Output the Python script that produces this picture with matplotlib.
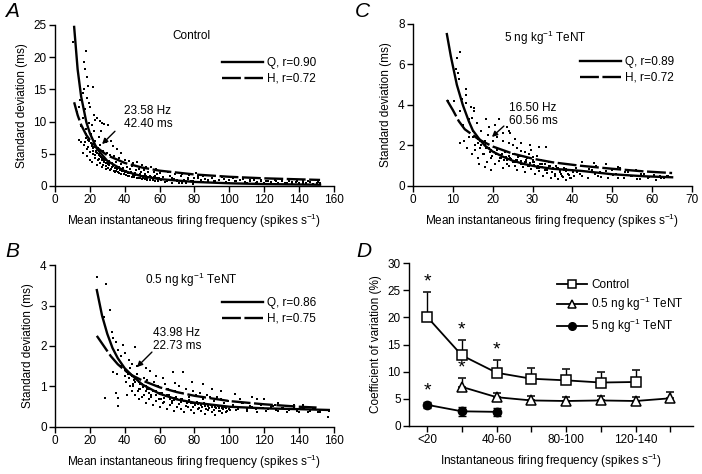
import numpy as np
import matplotlib
matplotlib.use("Agg")
import matplotlib.pyplot as plt
from matplotlib.lines import Line2D

plt.rcParams['font.family'] = ['Liberation Sans', 'DejaVu Sans']
plt.rcParams['mathtext.default'] = 'regular'
plt.rcParams['font.size'] = 8

# --- panel A: control scatter (freq Hz, SD ms) ---
a_x = [10.3, 17.6, 16.5, 17.3, 18.6, 19.2, 21.8, 16.8, 15.8, 18.2, 14.6, 19.5, 20.3, 17.0, 22.4, 24.1,
       23.0, 25.6, 27.2, 28.4, 30.6, 21.2, 26.3, 22.5, 19.8, 13.6, 12.4, 16.0, 14.8, 18.0, 20.5, 25.0,
       28.8, 32.0, 29.5, 35.8, 33.0, 13.8, 15.2, 16.5, 17.8, 19.0, 21.0, 22.8, 24.5, 26.0, 27.5, 30.0,
       31.5, 34.0, 36.5, 38.0, 40.0, 42.5, 45.0, 47.0, 50.0, 52.0, 55.0, 58.0,
       16.2, 18.5, 20.2, 21.5, 23.0, 24.2, 25.5, 26.8, 28.0, 29.2, 30.5, 31.8, 33.0, 34.5, 35.5, 37.0,
       38.5, 39.5, 41.0, 42.0, 43.5, 44.5, 46.0, 47.5, 48.5, 50.5, 51.5, 53.0, 54.5, 56.0, 57.5, 59.0,
       22.0, 24.0, 26.0, 27.0, 29.0, 31.0, 32.5, 34.0, 35.0, 36.5, 38.0, 39.0, 41.5, 43.0, 44.0, 46.5,
       48.0, 49.5, 51.0, 53.5, 56.5, 58.5, 60.0,
       18.0, 19.5, 21.0, 22.0, 23.5, 25.0, 26.5, 28.0, 29.5, 31.0, 33.5, 36.0, 38.5, 41.0, 43.5, 46.0,
       48.5, 51.0, 53.5, 56.0, 58.5,
       62, 64, 66, 68, 70, 72, 74, 76, 78, 80, 82, 84, 86, 88, 90, 92, 94, 96, 98, 100, 102, 104, 106,
       108, 110, 112, 114, 116, 118, 120, 122, 124, 126, 128, 130, 132, 134, 136, 138, 140, 142, 144,
       146, 148, 150, 152, 61, 65, 69, 73, 77, 81, 85, 63, 67, 71, 75, 79,
       17.0, 18.4, 20.1, 21.6, 22.9, 24.6, 26.0, 27.4, 29.1, 30.5, 32.0, 33.6, 35.0, 36.4, 38.1, 39.5,
       41.0, 42.6, 44.0, 45.4, 47.1, 48.5, 50.0, 51.6, 53.0, 54.4, 56.1, 57.5, 59.0,
       17.7, 19.1, 20.8, 22.3, 23.6, 25.3, 26.7, 28.1, 29.8, 31.2, 32.7, 34.3, 35.7, 37.1, 38.8, 40.2,
       41.7, 43.3, 44.7, 46.1, 47.8, 49.2, 50.7, 52.3, 53.7, 55.1, 56.8, 58.2, 59.7,
       61, 64, 67, 70, 73, 76, 79, 82, 85, 88, 91, 94, 97, 100, 103, 106, 109, 112, 115, 118, 121, 124,
       127, 130, 133, 136, 139, 142, 145, 148, 151]
a_y = [22.3, 21.0, 19.2, 18.1, 16.9, 15.6, 15.3, 15.1, 14.4, 13.7, 13.4, 12.9, 12.2, 11.9, 11.0, 10.5,
       10.2, 10.1, 9.8, 9.6, 9.5, 9.4, 8.6, 8.5, 9.8, 12.2, 11.5, 10.5, 9.3, 8.8, 8.0, 7.6,
       7.3, 7.0, 6.8, 5.8, 6.2, 7.1, 6.8, 6.3, 7.4, 6.0, 6.5, 7.0, 5.9, 6.3, 5.5, 5.2,
       4.8, 4.6, 4.4, 5.2, 4.1, 3.9, 3.6, 3.8, 3.2, 3.0, 2.9, 2.6,
       5.2, 4.6, 4.1, 3.7, 4.8, 3.3, 4.2, 3.0, 3.8, 2.7, 3.4, 2.5, 3.1, 2.2, 2.9, 2.0,
       2.6, 1.8, 2.4, 1.6, 2.2, 1.5, 2.0, 1.3, 1.9, 1.2, 1.8, 1.1, 1.6, 1.0, 1.5, 0.9,
       5.5, 5.1, 4.6, 4.0, 3.5, 3.9, 3.6, 3.3, 3.8, 3.0, 3.4, 2.8, 3.0, 2.6, 3.1, 2.5,
       2.7, 2.2, 2.5, 2.1, 2.2, 1.9, 2.0,
       7.5, 7.0, 6.2, 5.9, 5.4, 5.0, 4.5, 4.2, 4.0, 3.6, 3.2, 2.8, 2.4, 2.3, 2.0, 1.9,
       1.7, 1.6, 1.4, 1.3, 1.2,
       1.4, 0.9, 1.6, 1.1, 0.8, 1.5, 1.0, 1.3, 0.7, 1.2, 1.6, 0.9, 1.1, 0.6, 1.3, 0.8, 1.0, 1.4, 0.6, 0.9, 1.2, 0.7, 0.9,
       1.1, 0.5, 0.8, 1.0, 0.6, 0.9, 0.5, 0.8, 0.6, 0.9, 0.4, 0.7, 0.5, 0.8, 0.4, 0.6, 0.5, 0.7, 0.4,
       0.6, 0.3, 0.5, 0.4, 2.3, 2.1, 1.9, 1.8, 1.7, 2.0, 1.6, 0.6, 0.5, 0.4, 0.5, 0.3,
       6.9, 5.8, 5.3, 4.9, 4.4, 4.0, 3.6, 3.3, 3.1, 2.8, 2.6, 2.4, 2.3, 2.1, 1.9, 1.8,
       1.7, 1.5, 1.45, 1.35, 1.3, 1.25, 1.15, 1.1, 1.0, 0.95, 0.9, 0.85, 0.8,
       8.0, 7.2, 6.6, 6.0, 5.3, 4.8, 4.3, 3.9, 3.6, 3.3, 3.0, 2.8, 2.6, 2.45, 2.3, 2.2,
       2.05, 1.95, 1.85, 1.75, 1.7, 1.6, 1.55, 1.5, 1.45, 1.4, 1.35, 1.3, 1.25,
       1.0, 0.7, 1.2, 0.9, 0.5, 1.1, 0.8, 1.3, 0.6, 1.0, 0.7, 0.9, 1.1, 0.5, 0.8, 1.0, 0.6, 0.9, 0.4,
       0.7, 0.8, 0.5, 0.7, 0.9, 0.4, 0.6, 0.8, 0.5, 0.7, 0.3, 0.6]
a_qx = [11, 13, 15, 18, 20, 24, 30, 40, 50, 60, 80, 100, 120, 152]
a_qy = [24.7, 18.1, 13.9, 9.9, 8.2, 5.8, 3.9, 2.3, 1.5, 1.07, 0.63, 0.42, 0.30, 0.2]
a_hx = [11, 13, 15, 18, 20, 24, 30, 40, 50, 60, 80, 100, 120, 152]
a_hy = [13.0, 11.0, 9.5, 7.9, 7.15, 5.96, 4.77, 3.58, 2.86, 2.38, 1.79, 1.43, 1.19, 0.94]

# --- panel B: 0.5 ng/kg TeNT ---
b_x = [23.9, 29.1, 31.5, 28.3, 32.5, 33.5, 35.0, 39.2, 36.3, 45.9, 40.1, 38.0, 42.5, 44.0, 47.0, 33.4,
       35.4, 28.7, 35.0, 36.3, 41.1, 36.3, 54.5, 67.9, 73.6, 78.4, 68.8, 52.0, 58.0, 62.0, 85, 90, 95,
       103, 113, 120, 128, 137, 145, 156.6, 152,
       38, 40, 42, 44, 46, 48, 50, 52, 54, 56, 58, 60, 62, 64, 66, 68, 70, 72, 74, 76, 78, 80, 82, 84,
       86, 88, 90, 92, 94, 96, 98, 100,
       41, 43, 45, 47, 49, 51, 53, 55, 57, 59, 61, 63, 65, 67, 69, 71, 73, 75, 77, 79, 81, 83, 85, 87,
       89, 91, 93, 95, 97, 99,
       44, 46, 48, 50, 52, 54, 56, 58, 60, 62, 64, 66, 68, 70, 72, 74, 76, 78, 80, 82, 84, 86, 88, 90,
       92, 94, 96, 98,
       102, 105, 108, 110, 112, 115, 118, 121, 124, 127, 130, 133, 136, 139, 142, 145, 148, 151, 154,
       157, 106, 116, 126, 142,
       40.4, 42.3, 44.6, 45.8, 48.2, 50.5, 52.1, 53.7, 56.4, 57.8, 60.3, 62.6, 63.8, 66.2, 68.5, 69.7,
       72.1, 74.4, 75.9, 78.3, 80.1, 82.4, 84.2, 85.8, 88.3, 90.2, 92.5, 93.9, 96.3, 98.1, 100.4,
       41.3, 42.9, 45.2, 47.4, 48.8, 51.2, 52.7, 55.3, 56.9, 59.4, 61.1, 62.8, 65.3, 66.9, 69.2, 71.4,
       72.7, 75.2, 76.8, 79.1, 81.3, 82.8, 85.4, 86.7, 89.2, 91.1, 93.3, 94.6, 97.2, 98.8,
       101, 104, 107, 110, 113, 116, 119, 122, 125, 128, 131, 134, 137, 140, 143, 146, 149, 152, 155]
b_y = [3.71, 3.53, 2.9, 2.72, 2.35, 2.2, 2.11, 2.03, 1.9, 1.98, 1.82, 1.75, 1.65, 1.55, 1.5, 1.35,
       1.32, 0.71, 0.83, 0.71, 0.79, 0.53, 1.38, 1.35, 1.35, 1.12, 1.08, 1.45, 1.25, 1.2, 1.05, 0.95, 0.9,
       0.82, 0.74, 0.7, 0.6, 0.55, 0.5, 0.25, 0.41,
       1.5, 1.4, 1.3, 1.25, 1.2, 1.1, 1.05, 1.0, 0.95, 0.9, 0.88, 0.85, 0.8, 0.78, 0.75, 0.72, 0.7, 0.68,
       0.65, 0.62, 0.6, 0.58, 0.56, 0.55, 0.53, 0.52, 0.5, 0.5, 0.48, 0.47, 0.46, 0.45,
       1.1, 1.45, 1.0, 1.3, 0.95, 1.2, 1.15, 0.8, 1.1, 1.0, 0.7, 1.05, 0.95, 0.65, 0.9, 1.0, 0.85, 0.95,
       0.75, 0.9, 0.8, 0.85, 0.7, 0.8, 0.75, 0.65, 0.75, 0.7, 0.6, 0.65,
       0.9, 0.8, 0.7, 0.75, 0.6, 0.7, 0.55, 0.65, 0.5, 0.6, 0.45, 0.55, 0.4, 0.5, 0.45, 0.38, 0.5, 0.42,
       0.35, 0.45, 0.4, 0.32, 0.42, 0.36, 0.3, 0.4, 0.35, 0.38,
       0.55, 0.45, 0.6, 0.4, 0.52, 0.45, 0.55, 0.4, 0.5, 0.42, 0.48, 0.38, 0.45, 0.4, 0.48, 0.36, 0.44,
       0.38, 0.42, 0.4, 0.7, 0.68, 0.55, 0.55,
       1.25, 1.2, 1.05, 1.1, 0.95, 0.98, 0.9, 0.85, 0.88, 0.78, 0.82, 0.72, 0.76, 0.7, 0.66, 0.7,
       0.62, 0.64, 0.6, 0.58, 0.55, 0.6, 0.5, 0.55, 0.48, 0.52, 0.46, 0.5, 0.44, 0.48, 0.42,
       1.35, 1.0, 1.15, 0.9, 1.05, 0.8, 0.95, 0.75, 0.9, 0.7, 0.85, 0.62, 0.8, 0.6, 0.74, 0.56,
       0.7, 0.52, 0.66, 0.5, 0.62, 0.48, 0.58, 0.45, 0.55, 0.42, 0.52, 0.4, 0.5, 0.4,
       0.5, 0.42, 0.58, 0.45, 0.5, 0.38, 0.48, 0.44, 0.52, 0.4, 0.46, 0.42, 0.5, 0.38, 0.44, 0.4, 0.47,
       0.36, 0.43]
b_qx = [24, 27, 30, 33, 36, 40, 44, 50, 60, 70, 80, 100, 120, 140, 157]
b_qy = [3.38, 2.75, 2.3, 1.95, 1.7, 1.45, 1.28, 1.05, 0.82, 0.68, 0.6, 0.5, 0.46, 0.44, 0.42]
b_hx = [24, 28, 32, 36, 40, 44, 50, 60, 70, 80, 100, 120, 140, 150]
b_hy = [2.25, 2.0, 1.75, 1.55, 1.4, 1.28, 1.15, 0.98, 0.86, 0.77, 0.64, 0.56, 0.5, 0.48]

# --- panel C: 5 ng/kg TeNT ---
c_x = [8.7, 10.3, 10.9, 11.0, 11.5, 11.2, 11.9, 12.3, 13.3, 13.2, 13.4, 14.0, 14.6, 14.8, 15.2, 15.4,
       11.9, 12.5, 16.0, 17.0, 18.2, 19.0, 20.5, 21.5, 22.5, 23.7, 24.0, 24.4, 25.5, 27.0, 29.4, 31.5,
       33.4, 11.9, 12.7, 14.0, 15.0, 16.5,
       13.5, 15.5, 16.2, 17.0, 17.8, 18.5, 19.0, 19.8, 20.5, 21.0, 21.8, 22.5, 23.0, 23.5, 24.2, 25.0,
       25.5, 26.0, 26.8, 27.5, 28.0, 28.5, 29.0, 29.5, 30.0, 30.5, 31.0, 31.5, 32.0, 32.5, 33.0, 33.5,
       34.0, 34.5, 35.0, 35.5, 36.0, 36.5, 37.0, 37.5, 38.0, 38.5, 39.0, 39.5, 40.0, 40.5,
       16.8, 18.0, 19.5, 20.8, 22.0, 23.3, 24.5, 26.0, 27.2, 28.3, 29.3, 30.3, 31.3, 32.3, 33.8, 35.3,
       36.8, 38.3, 29.0, 30.0, 28.0, 27.0, 26.0, 25.0, 24.0, 22.5, 21.0, 20.0, 18.8,
       41, 42, 43, 44, 45, 46, 46.5, 47, 48, 49, 50, 51, 52, 53, 54, 55, 56, 57, 58, 59, 60, 61, 62, 63,
       64, 42.5, 45.5, 48.5, 51.5, 16.5, 18.0, 19.5, 14.8,
       15.1, 16.2, 16.9, 18.1, 19.2, 19.8, 21.1, 22.2, 22.8, 24.1, 25.2, 25.9, 27.1, 28.2, 28.8, 30.1,
       31.2, 31.8, 33.1, 34.2, 34.9, 36.1, 37.2, 37.8, 39.1, 40.2,
       15.6, 16.4, 17.6, 18.4, 19.6, 20.4, 21.6, 22.4, 23.6, 24.4, 25.6, 26.4, 27.6, 28.4, 29.6, 30.4,
       31.6, 32.4, 33.6, 34.4, 35.6, 36.4, 37.6, 38.4, 39.6,
       41.2, 42.4, 44.1, 45.6, 47.2, 48.3, 50.1, 51.4, 53.1, 54.6, 56.2, 57.3, 59.1, 60.4, 62.2, 63.6]
c_y = [4.2, 4.2, 5.8, 6.3, 5.3, 5.6, 6.6, 4.3, 4.8, 4.5, 4.1, 3.3, 3.9, 3.35, 3.85, 3.7,
       3.7, 3.0, 3.1, 2.7, 3.3, 2.9, 3.0, 3.3, 2.6, 2.9, 2.7, 2.6, 2.3, 2.1, 2.0, 1.95,
       1.95, 2.1, 2.2, 2.4, 2.7, 2.3,
       1.9, 1.8, 1.4, 2.0, 1.6, 1.2, 1.9, 1.5, 1.1, 1.8, 1.4, 0.9, 1.7, 1.3, 1.0, 1.6,
       1.2, 0.8, 1.5, 1.1, 0.7, 1.4, 1.0, 1.8, 1.2, 0.6, 1.5, 0.9, 1.3, 0.5, 1.1, 0.8,
       1.2, 0.4, 0.9, 0.6, 1.0, 0.35, 0.7, 0.5, 0.9, 0.3, 0.6, 0.4, 0.8, 0.5,
       2.2, 2.0, 1.8, 1.6, 1.55, 1.45, 1.35, 1.3, 1.25, 1.2, 1.15, 1.05, 1.0, 0.95, 0.9, 0.85,
       0.8, 0.75, 1.6, 1.45, 1.7, 1.75, 1.9, 2.0, 2.1, 2.2, 2.4, 2.2, 2.5,
       0.9, 0.6, 1.0, 0.4, 0.8, 1.0, 0.5, 0.7, 0.9, 0.4, 0.8, 0.6, 0.9, 0.4, 0.7, 0.5, 0.8, 0.35, 0.6,
       0.4, 0.7, 0.3, 0.5, 0.4, 0.5, 1.2, 1.15, 1.1, 0.95, 1.1, 0.95, 0.8, 1.6,
       2.4, 2.1, 1.9, 2.2, 1.7, 1.5, 1.8, 1.4, 1.3, 1.5, 1.2, 1.3, 1.1, 1.2, 1.0, 1.3,
       0.9, 1.1, 0.8, 1.0, 0.7, 0.9, 0.6, 0.8, 0.55, 0.7,
       2.0, 2.3, 1.6, 1.9, 1.4, 1.7, 1.25, 1.6, 1.1, 1.4, 1.0, 1.45, 0.95, 1.3, 0.85, 1.2,
       0.75, 1.1, 0.65, 1.0, 0.5, 0.9, 0.45, 0.85, 0.4,
       0.7, 0.5, 0.85, 0.6, 0.45, 0.75, 0.55, 0.4, 0.7, 0.5, 0.35, 0.6, 0.45, 0.55, 0.4, 0.5]
c_qx = [8.5, 9.5, 11, 12.5, 14, 15, 16.5, 18, 20, 22.5, 25, 28, 31, 35, 42, 50, 58, 65]
c_qy = [7.5, 6.4, 5.0, 4.0, 3.2, 2.75, 2.35, 2.0, 1.7, 1.45, 1.25, 1.08, 0.96, 0.85, 0.75, 0.58, 0.48, 0.43]
c_hx = [8.5, 10, 11.5, 13, 16.5, 20, 25, 30, 35, 42, 50, 58, 65]
c_hy = [4.25, 3.75, 3.2, 2.8, 2.3, 1.95, 1.6, 1.35, 1.17, 1.0, 0.85, 0.72, 0.64]

# --- panel D: coefficient of variation by frequency bin ---
bins = ["<20", "20-40", "40-60", "60-80", "80-100", "100-120", "120-140", ">140"]
cv_ctrl = [20.1, 13.0, 9.8, 8.7, 8.4, 8.0, 8.1]
cv_ctrl_err = [4.5, 2.9, 2.3, 1.9, 2.1, 1.9, 2.2]
cv_low = [7.2, 5.3, 4.7, 4.6, 4.7, 4.6, 5.1]
cv_low_err = [1.6, 0.7, 0.9, 0.8, 0.9, 0.7, 1.1]
cv_high = [3.9, 2.7, 2.6]
cv_high_err = [0.6, 0.8, 0.8]

fig = plt.figure(figsize=(7.02, 4.74), dpi=100)
axA = fig.add_axes([0.0783, 0.6076, 0.3975, 0.3397])
axC = fig.add_axes([0.5883, 0.6076, 0.3975, 0.3418])
axB = fig.add_axes([0.0783, 0.0992, 0.3975, 0.3417])
axD = fig.add_axes([0.5826, 0.1013, 0.4046, 0.3438])

xlab = "Mean instantaneous firing frequency (spikes s$^{-1}$)"
arrow = dict(arrowstyle="-|>", color="k", lw=1, shrinkA=0, shrinkB=0, mutation_scale=8)


def style(ax):
    for s in ("top", "right"):
        ax.spines[s].set_visible(False)
    ax.tick_params(direction="out", length=4, width=1, labelsize=8.5, pad=2)
    for s in ("left", "bottom"):
        ax.spines[s].set_linewidth(1)


def scatter_panel(ax, xs, ys, qx, qy, hx, hy, xmax, ymax, xstep, ystep, rq, rh):
    ax.scatter(xs, ys, s=4.5, c="k", marker="s", lw=0, zorder=2)
    ax.plot(qx, qy, color="k", lw=1.7, zorder=3)
    ax.plot(hx, hy, color="k", lw=1.7, dashes=(8, 1.5), zorder=3)
    ax.set_xlim(0, xmax)
    ax.set_ylim(0, ymax)
    ax.set_xticks(np.arange(0, xmax + 1, xstep))
    ax.set_yticks(np.arange(0, ymax + 0.01, ystep))
    ax.set_xlabel(xlab, fontsize=8.5, labelpad=4)
    ax.set_ylabel("Standard deviation (ms)", fontsize=8.5, labelpad=4)
    style(ax)
    handles = [Line2D([], [], color="k", lw=1.7),
               Line2D([], [], color="k", lw=1.7, dashes=(8, 1.5))]
    ax.legend(handles, [f"Q, r={rq}", f"H, r={rh}"], loc="upper left",
              bbox_to_anchor=(0.6, 0.80), frameon=False, handlelength=3.4,
              handletextpad=0.4, labelspacing=0.3, borderpad=0, borderaxespad=0,
              fontsize=8.5)


def note(ax, text, tx, ty, ax0, ay0, ax1, ay1):
    ax.text(tx, ty, text, fontsize=8.5, va="center", ha="left", linespacing=1.1)
    ax.annotate("", xy=(ax1, ay1), xytext=(ax0, ay0), arrowprops=arrow)


scatter_panel(axA, a_x, a_y, a_qx, a_qy, a_hx, a_hy, 160, 25, 20, 5, "0.90", "0.72")
axA.text(78, 23.3, "Control", ha="center", va="center", fontsize=8.5)
note(axA, "23.58 Hz\n42.40 ms", 39.6, 10.6, 34.4, 8.5, 27, 6.5)

scatter_panel(axC, c_x, c_y, c_qx, c_qy, c_hx, c_hy, 70, 8, 10, 2, "0.89", "0.72")
axC.text(33.3, 7.3, "5 ng kg$^{-1}$ TeNT", ha="center", va="center", fontsize=8.5)
note(axC, "16.50 Hz\n60.56 ms", 24.1, 3.55, 22.8, 2.96, 19.8, 2.42)

scatter_panel(axB, b_x, b_y, b_qx, b_qy, b_hx, b_hy, 160, 4, 20, 1, "0.86", "0.75")
axB.text(78, 3.63, "0.5 ng kg$^{-1}$ TeNT", ha="center", va="center", fontsize=8.5)
note(axB, "43.98 Hz\n22.73 ms", 56.2, 2.15, 55.6, 1.85, 47, 1.48)

# panel D
idx = np.arange(len(bins))
axD.errorbar(idx[:7], cv_ctrl, yerr=[np.zeros(7), cv_ctrl_err], color="k", lw=1.3,
             marker="s", ms=7, mfc="white", mec="k", mew=1.1, capsize=3, capthick=1,
             elinewidth=1, zorder=3)
axD.errorbar(idx[1:], cv_low, yerr=[np.zeros(7), cv_low_err], color="k", lw=1.3,
             marker="^", ms=7, mfc="white", mec="k", mew=1.1, capsize=3, capthick=1,
             elinewidth=1, zorder=3)
axD.errorbar(idx[:3], cv_high, yerr=cv_high_err, color="k", lw=1.3,
             marker="o", ms=6, mfc="k", mec="k", capsize=3, capthick=1,
             elinewidth=1, zorder=3)
for i, (v, e) in enumerate(zip(cv_ctrl[:3], cv_ctrl_err[:3])):
    axD.text(i, v + e + 0.3, "*", ha="center", va="bottom", fontsize=14)
axD.text(1, cv_low[0] + cv_low_err[0] + 0.3, "*", ha="center", va="bottom", fontsize=14)
axD.text(0, cv_high[0] + cv_high_err[0] + 0.3, "*", ha="center", va="bottom", fontsize=14)
axD.set_xlim(-0.52, 7.65)
axD.set_ylim(0, 30)
axD.set_yticks(np.arange(0, 31, 5))
axD.set_xticks(idx)
axD.set_xticklabels([b if i % 2 == 0 else "" for i, b in enumerate(bins)])
axD.set_xlabel("Instantaneous firing frequency (spikes s$^{-1}$)", fontsize=8.5, labelpad=4)
axD.set_ylabel("Coefficient of variation (%)", fontsize=8.5, labelpad=4)
style(axD)
d_handles = [Line2D([], [], color="k", lw=1.3, marker="s", ms=6, mfc="white", mew=1.1),
             Line2D([], [], color="k", lw=1.3, marker="^", ms=6, mfc="white", mew=1.1),
             Line2D([], [], color="k", lw=1.3, marker="o", ms=5.5, mfc="k")]
axD.legend(d_handles, ["Control", "0.5 ng kg$^{-1}$ TeNT", "5 ng kg$^{-1}$ TeNT"],
           loc="upper left", bbox_to_anchor=(0.52, 0.90), frameon=False, handlelength=2.6,
           handletextpad=0.3, labelspacing=0.3, borderpad=0, borderaxespad=0, fontsize=8.5)

for lab, x, y in (("A", 0.007, 0.995), ("C", 0.505, 0.995), ("B", 0.007, 0.49), ("D", 0.507, 0.49)):
    fig.text(x, y, lab, fontsize=15, style="italic", ha="left", va="top")

fig.savefig("out.png", dpi=100)
